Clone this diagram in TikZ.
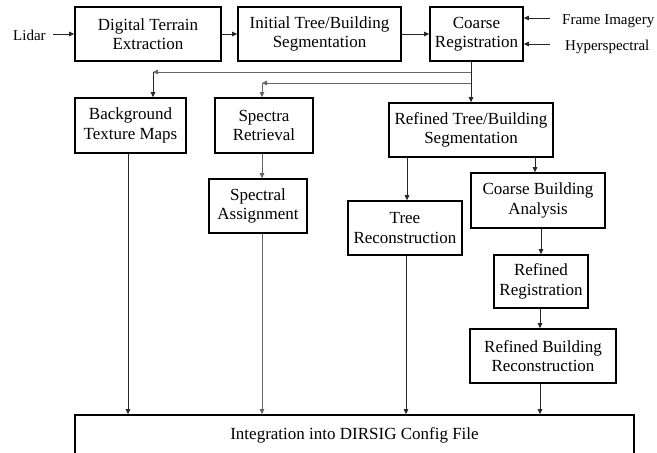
\documentclass[tikz,border=0pt]{standalone}
\usepackage{fontspec}
\setmainfont{Liberation Serif}
\usetikzlibrary{arrows.meta,calc}

\tikzset{
  box/.style={draw=black, line width=1.6pt, rectangle, inner sep=0pt,
    align=center, font=\fontsize{17}{19.5}\selectfont},
  lbl/.style={inner sep=0pt, font=\fontsize{15}{18}\selectfont},
  arr/.style={-{Triangle[length=5pt,width=4.5pt]}, line width=0.8pt, draw=black!85},
  garr/.style={arr, draw=black!60},
  gline/.style={line width=0.8pt, draw=black!60},
  bline/.style={line width=0.8pt, draw=black!85}
}

\begin{document}
\begin{tikzpicture}[x=1pt, y=-1pt]
  \useasboundingbox (0,0) rectangle (657,453);
  \clip (0,0) rectangle (657,453);

  % top row
  \node[box, minimum width=146pt, minimum height=54pt] (dte) at (148,34)
    {Digital Terrain\\Extraction};
  \node[box, minimum width=163pt, minimum height=54pt] (itbs) at (319.5,34)
    {Initial Tree/Building\\Segmentation};
  \node[box, minimum width=93pt, minimum height=54pt] (cr) at (476.5,34)
    {Coarse\\Registration};

  % inputs
  \node[lbl, anchor=base west] (lidar) at (13,40) {Lidar};
  \node[lbl, anchor=base west] (fi) at (562,24) {Frame Imagery};
  \node[lbl, anchor=base west] (hs) at (565,50) {Hyperspectral};
  \coordinate (lidarout) at (53,34);
  \coordinate (fiout) at (550,18);
  \coordinate (hsout) at (550,44);

  % second row
  \node[box, minimum width=111pt, minimum height=55pt] (btm) at (130.5,125.5)
    {Background\\Texture Maps};
  \node[box, minimum width=98pt, minimum height=55pt] (sr) at (264,125.5)
    {Spectra\\Retrieval};
  \node[box, minimum width=164pt, minimum height=54pt] (rtbs) at (471,130)
    {Refined Tree/Building\\Segmentation};

  % lower boxes
  \node[box, minimum width=98pt, minimum height=54pt] (sa) at (258,206)
    {Spectral\\Assignment};
  \node[box, minimum width=114pt, minimum height=54pt] (tr) at (405,228)
    {Tree\\Reconstruction};
  \node[box, minimum width=134pt, minimum height=55pt] (cba) at (538,200.5)
    {Coarse Building\\Analysis};
  \node[box, minimum width=94pt, minimum height=53pt] (rr) at (541,281.5)
    {Refined\\Registration};
  \node[box, minimum width=146pt, minimum height=54pt] (rbr) at (543,356)
    {Refined Building\\Reconstruction};

  % integration box (runs off the lower edge)
  \node[box, minimum width=559pt, minimum height=40pt] (integ) at (354.5,435)
    {Integration into DIRSIG Config File};

  % top row connectors
  \draw[arr] (lidarout) -- (dte.west |- lidarout);
  \draw[arr] (dte.east) -- (itbs.west);
  \draw[arr] (itbs.east) -- (cr.west);
  \draw[arr] (fiout) -- (cr.east |- fiout);
  \draw[arr] (hsout) -- (cr.east |- hsout);

  % split below coarse registration
  \coordinate (trunk) at (471,61);
  \coordinate (b1) at (471,72);
  \coordinate (b2) at (471,83);
  \coordinate (c1) at (153,72);
  \coordinate (c2) at (262,83);
  \draw[arr] (cr.south -| trunk) -- (rtbs.north -| trunk);
  \draw[garr] (b1) -- (c1);
  \draw[arr] (c1) -- (btm.north -| c1);
  \draw[garr] (b2) -- (c2);
  \draw[garr] (c2) -- (sr.north -| c2);

  % middle connectors
  \draw[garr] (sr.south -| c2) -- (sa.north -| c2);
  \coordinate (xt) at (407,0);
  \coordinate (xc) at (535,0);
  \coordinate (xr) at (541,0);
  \coordinate (xb) at (540,0);
  \draw[arr] (rtbs.south -| xt) -- (tr.north -| xt);
  \draw[arr] (rtbs.south -| xc) -- (cba.north -| xc);
  \draw[arr] (cba.south -| xr) -- (rr.north -| xr);
  \draw[arr] (rr.south -| xb) -- (rbr.north -| xb);

  % into integration
  \coordinate (xm) at (128,0);
  \coordinate (xs) at (262,0);
  \coordinate (xq) at (406,0);
  \draw[arr] (btm.south -| xm) -- (integ.north -| xm);
  \draw[garr] (sa.south -| xs) -- (integ.north -| xs);
  \draw[arr] (tr.south -| xq) -- (integ.north -| xq);
  \draw[arr] (rbr.south -| xb) -- (integ.north -| xb);
\end{tikzpicture}
\end{document}
